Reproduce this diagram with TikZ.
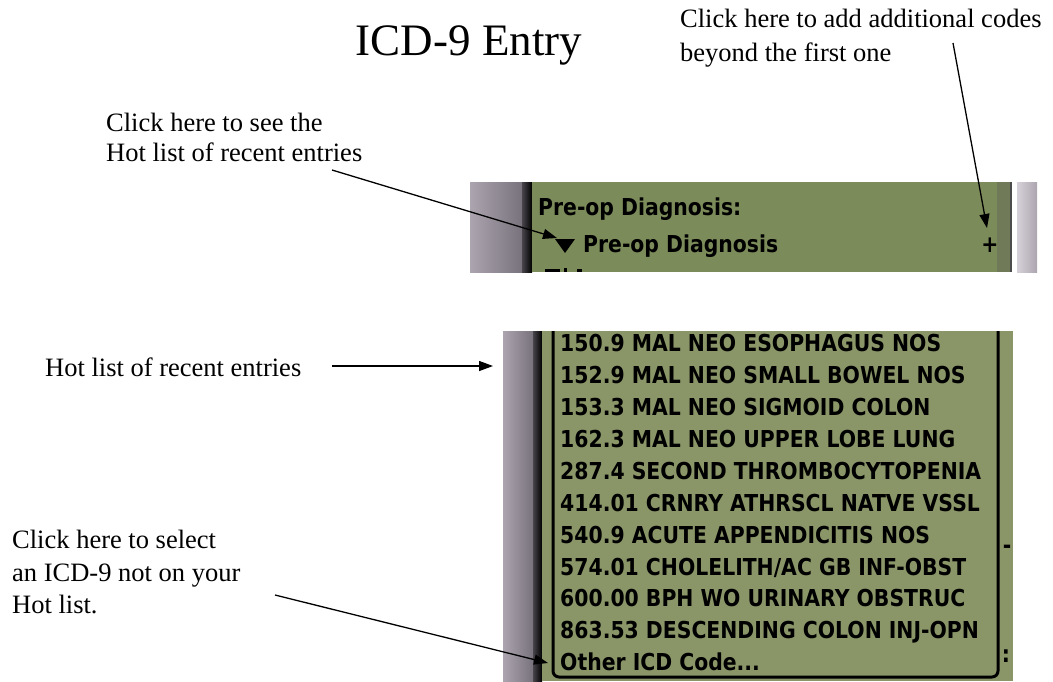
\documentclass[tikz,border=0pt]{standalone}
\usepackage{fontspec}
\setmainfont{Liberation Serif}
\newfontfamily\lcdfont[FakeStretch=0.875]{DejaVu Sans}
\usetikzlibrary{arrows.meta}

\definecolor{lcdtop}{RGB}{124,139,90}
\definecolor{lcdlow}{RGB}{138,150,104}
\definecolor{lcdrim}{RGB}{112,122,88}
\definecolor{greyedge}{RGB}{172,165,176}
\definecolor{greylight}{RGB}{214,209,216}
\definecolor{greydark}{RGB}{120,114,124}
\newcommand\lcddots{...}

\begin{document}
\begin{tikzpicture}
[x=1pt,y=-1pt,>={Triangle[length=14pt,width=10pt]},
 note/.style={anchor=base west,inner sep=0pt,font=\fontsize{26.5}{30}\selectfont},
 lcd/.style={anchor=base west,inner sep=0pt,font=\lcdfont\bfseries\fontsize{23.3}{26}\selectfont},
 callout/.style={line width=1.3pt,->},]

\useasboundingbox (0,0) rectangle (1053,681);

% upper screen part
\shade[left color=greyedge,middle color=greylight,right color=greydark] (470,182) rectangle (522,272);
\shade[left color=greydark!60!black,right color=black] (522,182) rectangle (532,272);
\fill[lcdtop] (532,182) rectangle (997,272);
\fill[lcdrim] (997,182) rectangle (1010,272);
\fill[black!70] (1010,182) rectangle (1012,272);
\shade[left color=greylight,right color=greyedge] (1017,182) rectangle (1037,272);

\node[lcd] (prelabel) at (538,215) {Pre-op Diagnosis:};
\node[lcd] (pretrigger) at (583,252) {Pre-op Diagnosis};
\node[lcd,anchor=center] (plus) at (990,245) {+};
\fill (555,239) -- (575,239) -- (565,253) -- cycle;
\fill (545,269) rectangle (560,272);
\fill (564,268) rectangle (567,272);
\fill (577,269) rectangle (582,272);

% lower screen part
\shade[left color=greyedge,middle color=greylight,right color=greydark] (503,331) rectangle (533,681);
\shade[left color=greydark!60!black,right color=black] (533,331) rectangle (542,681);
\fill[lcdlow] (542,331) rectangle (1013,681);
\begin{scope}
\clip (542,331) rectangle (1013,681);
\draw[line width=3pt,rounded corners=6pt] (553,300) rectangle (998,677);
\end{scope}

\foreach \code [count=\i from 0] in {150.9 MAL NEO ESOPHAGUS NOS,152.9 MAL NEO SMALL BOWEL NOS,
  153.3 MAL NEO SIGMOID COLON,162.3 MAL NEO UPPER LOBE LUNG,287.4 SECOND THROMBOCYTOPENIA,
  414.01 CRNRY ATHRSCL NATVE VSSL,540.9 ACUTE APPENDICITIS NOS,574.01 CHOLELITH/AC GB INF-OBST,
  600.00 BPH WO URINARY OBSTRUC,863.53 DESCENDING COLON INJ-OPN,Other ICD Code\lcddots}
  \node[lcd] (row\i) at (560,{351.7+31.9*\i}) {\code};

\node[lcd,anchor=center] (dash) at (1007,549) {-};
\node[lcd,anchor=center] (dots) at (1006,656) {:};

% notes
\node[anchor=base,inner sep=0pt,font=\fontsize{45}{50}\selectfont] (title) at (469,55) {ICD-9 Entry};

\node[note] (addnoteA) at (680,27.7) {Click here to add additional codes};
\node[note] (addnoteB) at (680,61.7) {beyond the first one};
\node[note] (hotnoteA) at (106,131.7) {Click here to see the};
\node[note] (hotnoteB) at (106,161.7) {Hot list of recent entries};
\node[note] (listnote) at (45,376) {Hot list of recent entries};
\node[note] (othernoteA) at (12,548) {Click here to select};
\node[note] (othernoteB) at (12,581) {an ICD-9 not on your};
\node[note] (othernoteC) at (12,613) {Hot list.};

\coordinate (addsrc) at (953,43);
\coordinate (addtip) at (987,228);
\coordinate (hotsrc) at (332,170);
\coordinate (hottip) at (557,238);
\coordinate (listsrc) at (332,366);
\coordinate (listtip) at (493,366);
\coordinate (othersrc) at (275,595);
\coordinate (othertip) at (548,663);

\draw[callout] (addsrc) -- (addtip);
\draw[callout] (hotsrc) -- (hottip);
\draw[callout] (listsrc) -- (listtip);
\draw[callout] (othersrc) -- (othertip);

\end{tikzpicture}
\end{document}
